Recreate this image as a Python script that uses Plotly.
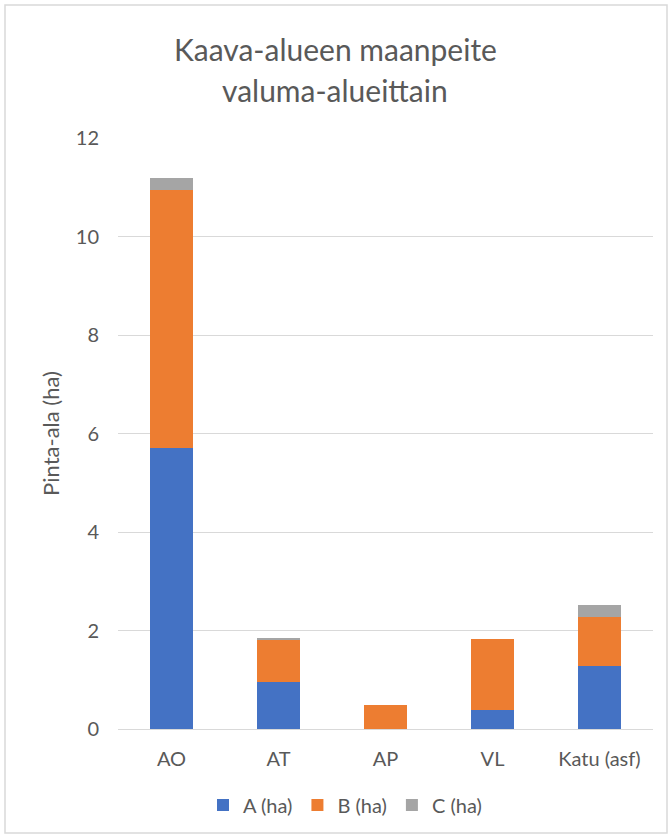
import plotly.graph_objects as go

categories = ["AO", "AT", "AP", "VL", "Katu (asf)"]
a_ha = [5.70, 0.95, 0.0, 0.38, 1.28]
b_ha = [5.25, 0.86, 0.48, 1.44, 0.99]
c_ha = [0.23, 0.04, 0.0, 0.0, 0.24]
y_ticks = [0, 2, 4, 6, 8, 10, 12]
title_lines = ["Kaava-alueen maanpeite", "valuma-alueittain"]

FONT = "Lato"
TEXT = "#595959"

fig = go.Figure()
for name, vals, col in [("A (ha)", a_ha, "#4472C4"),
                        ("B (ha)", b_ha, "#ED7D31"),
                        ("C (ha)", c_ha, "#A5A5A5")]:
    fig.add_trace(go.Bar(x=categories, y=vals, name=name,
                         marker=dict(color=col, line=dict(width=0))))

W, H = 670, 838
L, R, T, B = 118, 17, 138, 109
pw, ph = W - L - R, H - T - B

def px_x(p):
    return (p - L) / pw

def px_y(p):
    return (H - B - p) / ph

# two-line chart title, placed line by line for Office-like spacing
annotations = [dict(text=t, xref="paper", yref="paper", x=px_x(335), y=px_y(yc),
                    xanchor="center", yanchor="middle", showarrow=False,
                    font=dict(family=FONT, size=30, color=TEXT))
               for t, yc in zip(title_lines, [49, 90])]

fig.update_layout(
    width=W, height=H,
    barmode="stack", bargap=0.6,
    margin=dict(l=L, r=R, t=T, b=B, autoexpand=False),
    paper_bgcolor="white", plot_bgcolor="white",
    font=dict(family=FONT, color=TEXT, size=20),
    xaxis=dict(showgrid=False, showline=True, linecolor="#d9d9d9",
               ticks="", ticklabelstandoff=12,
               tickfont=dict(size=20, color=TEXT)),
    yaxis=dict(range=[0, 12], tickvals=y_ticks, showgrid=True,
               gridcolor="#d9d9d9", gridwidth=1, zeroline=False,
               showline=False, ticks="", ticklen=0, ticklabelstandoff=18,
               tickfont=dict(size=20, color=TEXT),
               title=dict(text="Pinta-ala (ha)", standoff=10,
                          font=dict(size=22, color=TEXT))),
    legend=dict(orientation="h", x=px_x(345), xanchor="center",
                y=px_y(805), yanchor="middle",
                font=dict(size=20, color=TEXT),
                itemwidth=30, traceorder="normal"),
    annotations=annotations,
    shapes=[dict(type="rect", xref="paper", yref="paper",
                 x0=px_x(5), x1=px_x(667), y0=px_y(833), y1=px_y(5),
                 line=dict(color="#d9d9d9", width=1.5), layer="below")],
)

fig.write_html("out.html")
